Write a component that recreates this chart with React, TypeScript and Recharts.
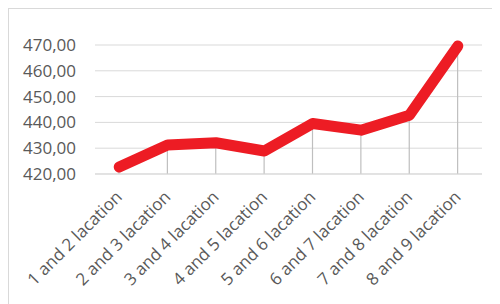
import { ComposedChart, Line, Bar, XAxis, YAxis, CartesianGrid } from "recharts";

const categories = [
  "1 and 2 lacation",
  "2 and 3 lacation",
  "3 and 4 lacation",
  "4 and 5 lacation",
  "5 and 6 lacation",
  "6 and 7 lacation",
  "7 and 8 lacation",
  "8 and 9 lacation",
];
const values = [422.7, 431.2, 432.1, 428.9, 439.6, 437.0, 442.8, 469.6];
const yTicks = [420, 430, 440, 450, 460, 470];

const FONT = "'Open Sans', sans-serif";
const TEXT = "#595959";

const data = categories.map((name, i) => ({ name, value: values[i] }));

const formatValue = (v: number) => v.toFixed(2).replace(".", ",");

// slanted category label, text ends just under the tick
const XTick = ({ x, y, payload }: any) => (
  <g transform={`translate(${x + 4},${y + 22})`}>
    <text
      transform="rotate(-45)"
      textAnchor="end"
      fill={TEXT}
      fontSize={17}
      fontFamily={FONT}
    >
      {payload.value}
    </text>
  </g>
);

// drop line from the point down to the axis
const DropLine = ({ x, y, width, height }: any) => {
  if (height == null || height <= 0) return null;
  const cx = x + width / 2;
  return <line x1={cx} x2={cx} y1={y} y2={y + height} stroke="#BFBFBF" strokeWidth={1.2} />;
};

export default function App() {
  return (
    <div
      style={{
        width: 491,
        height: 295,
        borderTop: "1px solid #D9D9D9",
        borderLeft: "1px solid #D9D9D9",
        background: "#fff",
      }}
    >
      <ComposedChart
        width={491}
        height={295}
        data={data}
        margin={{ top: 36, right: 18, left: 0, bottom: 0 }}
      >
        <CartesianGrid vertical={false} stroke="#D9D9D9" strokeWidth={1} />
        <XAxis
          dataKey="name"
          interval={0}
          height={130}
          axisLine={{ stroke: "#D9D9D9" }}
          tickLine={false}
          tickSize={0}
          tick={<XTick />}
        />
        <YAxis
          domain={[420, 470]}
          ticks={yTicks}
          width={86}
          axisLine={false}
          tickLine={false}
          tickSize={0}
          tickMargin={19}
          tickFormatter={formatValue}
          tick={{ fill: TEXT, fontSize: 17, fontFamily: FONT }}
        />
        <Bar dataKey="value" barSize={2} shape={<DropLine />} isAnimationActive={false} />
        <Line
          type="linear"
          dataKey="value"
          stroke="#ED1C24"
          strokeWidth={11}
          strokeLinecap="round"
          strokeLinejoin="round"
          dot={false}
          activeDot={false}
          isAnimationActive={false}
        />
      </ComposedChart>
    </div>
  );
}
